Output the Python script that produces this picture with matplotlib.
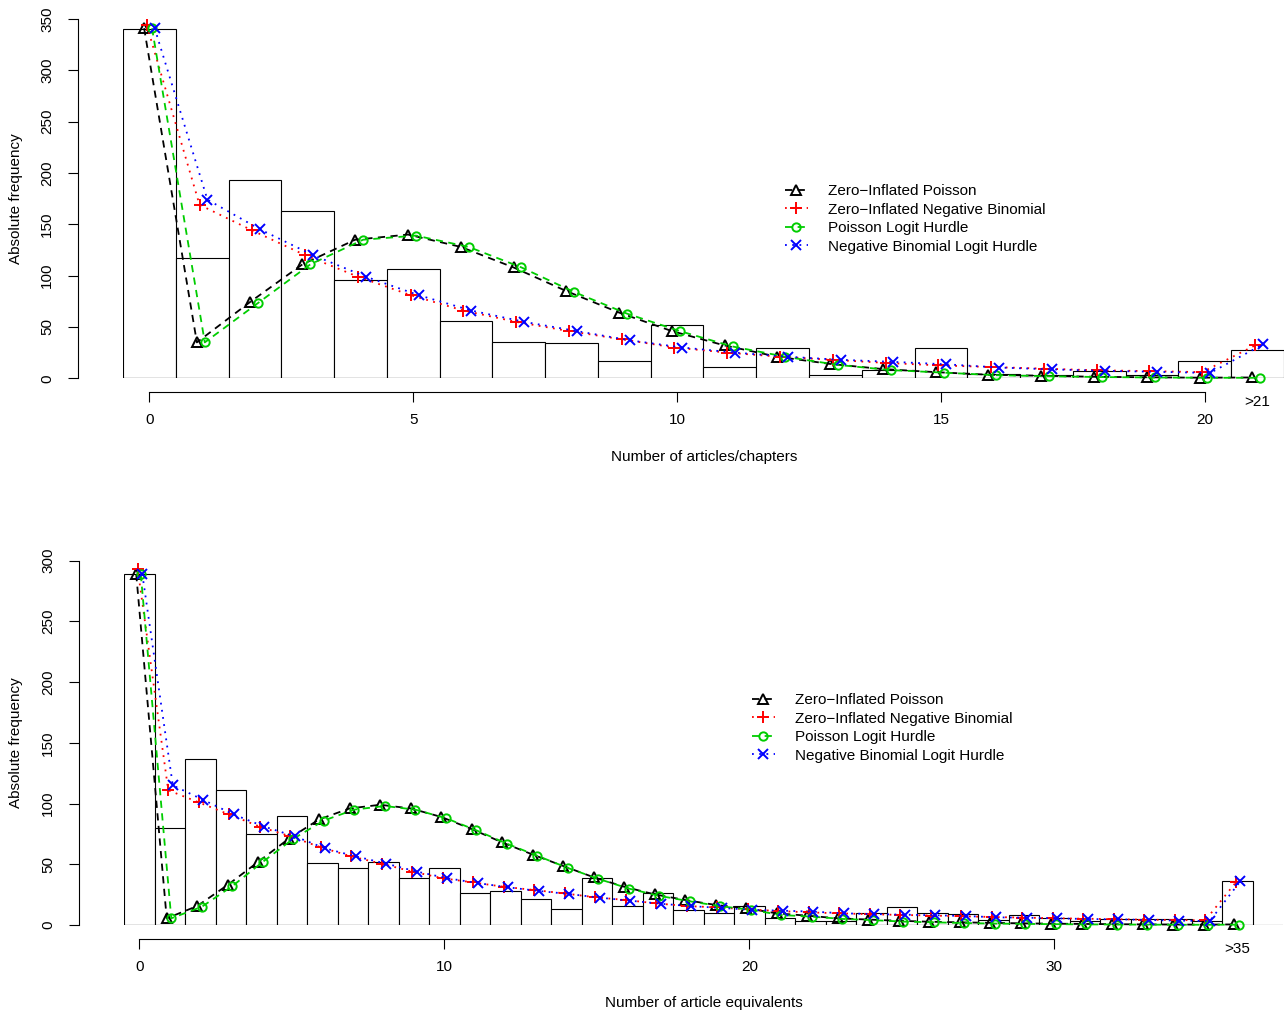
import matplotlib.pyplot as plt

plt.rcParams['font.family'] = ['Liberation Sans', 'DejaVu Sans']
plt.rcParams['font.size'] = 11

W, H = 1286, 1015

model_names = ['Zero\u2212Inflated Poisson', 'Zero\u2212Inflated Negative Binomial',
               'Poisson Logit Hurdle', 'Negative Binomial Logit Hurdle']

# top panel: articles/chapters (last bin is ">21")
top_counts = [340, 117, 193, 163, 96, 106, 56, 35, 34, 17, 52, 11, 30, 3, 8, 30, 4, 3, 7, 3, 17, 28]
top_zip = [341, 35, 74, 111, 135, 140, 128, 108, 85, 64, 46, 32, 21, 14, 9, 6, 3.5, 2.5, 1.5, 1.0, 0.6, 0.8]
top_zinb = [344, 169, 144, 120, 99, 81, 66, 55, 46, 38, 30, 25, 21, 18, 15, 12.6, 11, 9.4, 7.8, 7.0, 6.0, 32]
top_plh = [341, 35, 73, 111, 135, 139, 128, 108, 84, 63, 46, 31, 21, 13, 8, 5.5, 3.0, 2.0, 1.2, 0.8, 0.5, 0.5]
top_nblh = [341, 174, 145, 120, 99, 81, 66, 55, 46, 37, 30, 25, 21, 18, 16, 13.6, 10.5, 8.7, 7.3, 6.3, 5.2, 33]
top_xticks = [0, 5, 10, 15, 20]

# bottom panel: article equivalents (last bin is ">35")
bot_counts = [289, 80, 137, 111, 75, 90, 51, 47, 52, 39, 47, 26, 28, 21, 13, 39, 16, 26, 12, 10,
              16, 6, 3, 3, 10, 15, 10, 9, 4, 8, 6, 3, 5, 5, 5, 3, 36]
bot_zip = [289, 5.5, 15.6, 33, 52, 71, 87, 96, 99, 96, 89, 79, 68, 58, 48.6, 39.3, 31.5, 25.2, 20.6, 16.5,
           13.8, 9.6, 7.7, 5.5, 4.5, 3.5, 2.7, 2.2, 1.8, 1.4, 1.1, 0.9, 0.7, 0.5, 0.4, 0.3, 0.5]
bot_zinb = [293, 111, 101, 91, 81, 73, 64, 56.5, 50.5, 44, 38.5, 35, 31.5, 28.8, 26, 22.8, 20.6, 17.8, 15.6, 14.5,
            12.9, 11.5, 10.4, 9.6, 8.9, 8.3, 7.8, 7.2, 6.6, 6.1, 5.6, 5.2, 4.8, 4.4, 4.1, 3.8, 35]
bot_plh = [289, 5.5, 15, 32, 52, 71, 86, 95, 98, 95, 88, 78, 67, 57, 47, 38, 30, 24, 19.5, 15.5,
           12.5, 8.2, 6.9, 5.0, 4.0, 2.8, 2.2, 1.6, 1.2, 0.9, 0.7, 0.5, 0.4, 0.3, 0.2, 0.2, 0.3]
bot_nblh = [289, 115, 103, 91, 81, 73, 63, 56.5, 50.5, 44, 38.5, 34.5, 31, 28, 25.5, 22.5, 20, 17.5, 15.5, 14,
            12.5, 11.8, 11, 9.6, 9, 8.5, 8, 7.4, 6.3, 6, 5.5, 4.9, 4.7, 4.1, 3.6, 3.3, 36]
bot_xticks = [0, 10, 20, 30]

styles = [
    dict(color='black', marker='^', linestyle=(0, (4, 3)), ms=7, offset=-0.1),
    dict(color='#FF0000', marker='+', linestyle=(0, (1, 3)), ms=9, offset=-0.05),
    dict(color='#00CD00', marker='o', linestyle=(0, (4, 3)), ms=6, offset=0.05),
    dict(color='#0000FF', marker='x', linestyle=(0, (1, 3)), ms=7, offset=0.1),
]


def panel(rect, xlim, ylim, counts, series, xticks, last_label, xlabel, xlabel_y, leg_xy):
    ax = fig.add_axes(rect)
    pos = list(range(len(counts)))
    ax.bar(pos, counts, width=1.0, color='white', edgecolor='black', linewidth=0.8, zorder=1)
    ax.axhline(0, color='black', linewidth=0.8, zorder=1)
    for vals, name, st in zip(series, model_names, styles):
        xs = [p + st['offset'] for p in pos]
        ax.plot(xs, vals, color=st['color'], linestyle=st['linestyle'], linewidth=1.3,
                marker=st['marker'], markersize=st['ms'], markerfacecolor='none',
                markeredgewidth=1.4, label=name, zorder=3, clip_on=False)
    ax.set_xlim(*xlim)
    ax.set_ylim(*ylim)
    for s in ['top', 'right']:
        ax.spines[s].set_visible(False)
    ax.spines['left'].set_position(('outward', 32.5))
    ax.spines['bottom'].set_position(('outward', 10))
    ax.spines['left'].set_bounds(ylim[0], ylim[1])
    ax.spines['bottom'].set_bounds(xticks[0], xticks[-1])
    ax.set_xticks(xticks)
    ax.set_yticks(range(0, ylim[1] + 1, 50))
    ax.tick_params(axis='both', direction='out', length=7, width=0.8)
    ax.tick_params(axis='x', pad=8)
    ax.tick_params(axis='y', pad=10, labelrotation=90)
    for lab in ax.get_yticklabels():
        lab.set_va('center')
    ax.annotate(last_label, xy=(len(counts) - 1, 0), xytext=(0, -17), textcoords='offset points',
                ha='center', va='center')
    fig.text(704 / W, 1 - xlabel_y / H, xlabel, ha='center', va='center')
    ymid = rect[1] + rect[3] / 2
    fig.text(16 / W, ymid, 'Absolute frequency', rotation=90, ha='center', va='center')
    ax.legend(loc='upper left', bbox_to_anchor=(leg_xy[0] / W, 1 - leg_xy[1] / H),
              bbox_transform=fig.transFigure, frameon=False, borderpad=0, borderaxespad=0,
              handlelength=1.5, handletextpad=1.3, labelspacing=0.3, numpoints=1)
    return ax


fig = plt.figure(figsize=(W / 100, H / 100), dpi=100)

panel([123 / W, 1 - 378.3 / H, 1161 / W, 359.3 / H], (-0.5, 21.5), (0, 350),
      top_counts, [top_zip, top_zinb, top_plh, top_nblh], top_xticks, '>21',
      'Number of articles/chapters', 457, (785, 184))

panel([124 / W, 1 - 925 / H, 1159 / W, 364.3 / H], (-0.5, 37.5), (0, 300),
      bot_counts, [bot_zip, bot_zinb, bot_plh, bot_nblh], bot_xticks, '>35',
      'Number of article equivalents', 1003, (752, 693))

plt.savefig('out.png', dpi=100)
